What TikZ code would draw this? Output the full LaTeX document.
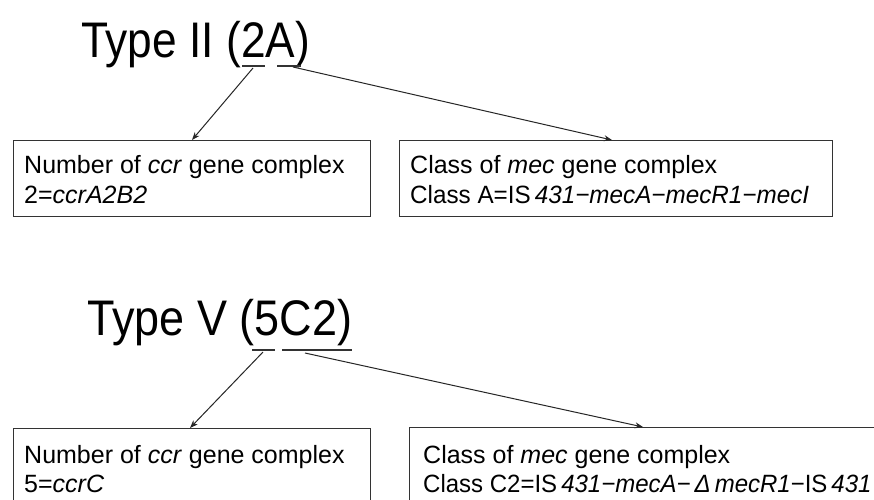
\documentclass[tikz,border=0pt]{standalone}
\usepackage{fontspec}
\setmainfont{Liberation Sans}
\usetikzlibrary{arrows.meta}
\begin{document}
\begin{tikzpicture}[x=1pt,y=-1pt,
  box/.style={draw=black!80, line width=1.3pt, rectangle, inner sep=0pt, anchor=north west},
  title/.style={anchor=base west, inner sep=0pt, font=\fontsize{50}{60}\selectfont},
  txt/.style={anchor=base west, inner sep=0pt, font=\fontsize{25}{30}\selectfont},
  ul/.style={line width=1.2pt, draw=black!80},
  arr/.style={line width=1pt, draw=black!85, -{Stealth[length=8pt,width=6pt]}}]
\useasboundingbox (0,0) rectangle (874,499);
\clip (0,0) rectangle (874,499);
\fill[white] (0,0) rectangle (874,499);

% ---------- Type II ----------
\node[title] (t1) at (81,57) {\scalebox{0.885}[1]{Type II (2A)}};
\node[box, minimum width=357pt, minimum height=76pt] (b1) at (13,140) {};
\node[box, minimum width=433pt, minimum height=76pt] (b2) at (399,140) {};
\node[txt] (l1a) at (24,173) {Number of \textit{ccr} gene complex};
\node[txt] (l1b) at (24,203) {2=\textit{ccrA2B2}};
\node[txt] (l2a) at (410,173) {Class of \textit{mec} gene complex};
\node[txt] (l2b) at (410,203) {\scalebox{0.97}[1]{Class A=IS\,\textit{431−mecA−mecR1−mecI}}};

\coordinate (u1a) at (242,66); \coordinate (u1b) at (265,66);
\coordinate (u1c) at (277,66); \coordinate (u1d) at (301,66);
\draw[ul] (u1a) -- (u1b);
\draw[ul] (u1c) -- (u1d);
\coordinate (s1) at (253,68); \coordinate (e1) at (192,140);
\coordinate (s2) at (293,67); \coordinate (e2) at (612,140);
\draw[arr] (s1) -- (e1);
\draw[arr] (s2) -- (e2);

% ---------- Type V ----------
\node[title] (t2) at (87,335) {\scalebox{0.9}[1]{Type V (5C2)}};
\node[box, minimum width=357pt, minimum height=110pt] (b3) at (13,428) {};
\node[box, minimum width=500pt, minimum height=110pt] (b4) at (409,427) {};
\node[txt] (l3a) at (24,463) {Number of \textit{ccr} gene complex};
\node[txt] (l3b) at (24,492) {5=\textit{ccrC}};
\node[txt] (l4a) at (423,463) {Class of \textit{mec} gene complex};
\node[txt] (l4b) at (423,492) {\scalebox{0.96}[1]{Class C2=IS\,\textit{431−mecA−}\,\textit{Δ\,mecR1}−IS\,\textit{431}}};

\coordinate (u2a) at (252,350); \coordinate (u2b) at (275,350);
\coordinate (u2c) at (282,350); \coordinate (u2d) at (352,350);
\draw[ul] (u2a) -- (u2b);
\draw[ul] (u2c) -- (u2d);
\coordinate (s3) at (263,352); \coordinate (e3) at (190,428);
\coordinate (s4) at (305,353); \coordinate (e4) at (643,427);
\draw[arr] (s3) -- (e3);
\draw[arr] (s4) -- (e4);
\end{tikzpicture}
\end{document}
